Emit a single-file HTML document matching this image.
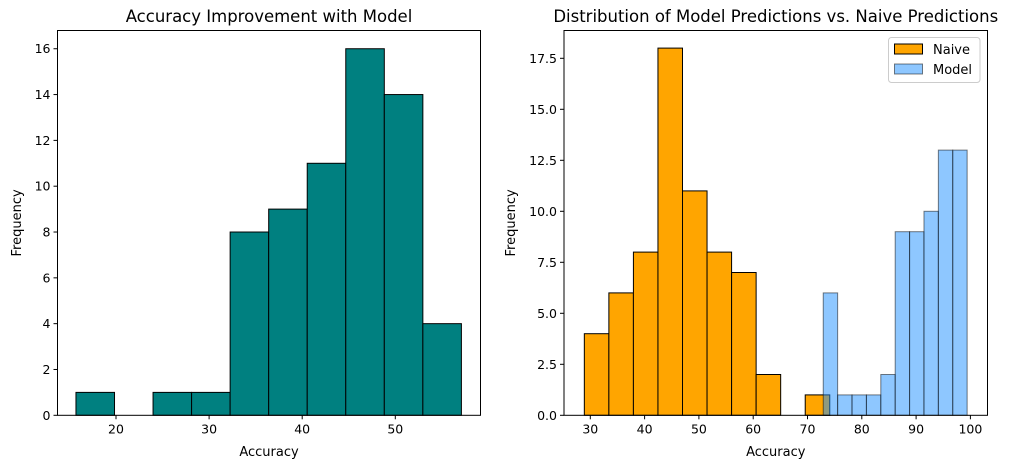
<!DOCTYPE html>
<html><head><meta charset="utf-8"><style>
body{margin:0;background:#fff;}
svg{font-family:"DejaVu Sans","Liberation Sans",sans-serif;}
</style></head><body>
<svg id="c" width="1010" height="468" xmlns="http://www.w3.org/2000/svg"></svg>
<script>
const leftCounts=[1,0,1,1,8,9,11,16,14,4];
const leftEdgeStart=15.7, leftBinW=4.14;
const leftXTicks=[20,30,40,50];
const leftYTicks=[0,2,4,6,8,10,12,14,16];
const naiveCounts=[4,6,8,18,11,8,7,2,0,1];
const naiveEdgeStart=28.9, naiveBinW=4.52;
const modelCounts=[6,1,1,1,2,9,9,10,13,13];
const modelEdgeStart=72.9, modelBinW=2.65;
const rightXTicks=[30,40,50,60,70,80,90,100];
const rightYTicks=[0,2.5,5,7.5,10,12.5,15,17.5];

const NS="http://www.w3.org/2000/svg";
const svg=document.getElementById('c');
function mk(tag,attrs,parent){const e=document.createElementNS(NS,tag);for(const k in attrs)e.setAttribute(k,attrs[k]);(parent||svg).appendChild(e);return e;}

function panel(o){
  const g=mk('g',{});
  
  
  const X=v=>o.x0+(v-o.xv0)*o.xs, Y=v=>o.yb-v*o.ys;
  o.series.forEach(s=>{
    s.counts.forEach((c,i)=>{
      const a=X(s.start+i*s.w), b=X(s.start+(i+1)*s.w);
      const r=mk('rect',{x:a,y:Y(c),width:b-a,height:c*o.ys,fill:s.fill,'fill-opacity':s.op,stroke:'#000','stroke-opacity':s.sop,'stroke-width':1},g);
      
      
    });
  });
  const fr=mk('rect',{x:o.L,y:o.T,width:o.R-o.L,height:o.yb-o.T,fill:'none',stroke:'#000','stroke-width':1},g);
  
  
  o.xt.forEach(v=>{
    const x=X(v);
    mk('line',{x1:x,x2:x,y1:o.yb,y2:o.yb+4,stroke:'#000'},g);
    const t=mk('text',{x:x,y:o.yb+18,'text-anchor':'middle','font-size':'12.5'},g);t.textContent=v;
    
    
  });
  o.yt.forEach(v=>{
    const y=Y(v);
    mk('line',{x1:o.L-4,x2:o.L,y1:y,y2:y,stroke:'#000'},g);
    const t=mk('text',{x:o.L-7,y:y+4.5,'text-anchor':'end','font-size':'12.5'},g);t.textContent=o.yfmt(v);
    
    
  });
  const ti=mk('text',{x:(o.L+o.R)/2,y:22,'text-anchor':'middle','font-size':'16.5'},g);ti.textContent=o.title;
  
  
  const xl=mk('text',{x:(o.L+o.R)/2,y:456,'text-anchor':'middle','font-size':'13'},g);xl.textContent='Accuracy';
  
  
  const yl=mk('text',{x:0,y:0,'text-anchor':'middle','font-size':'13',transform:`translate(${o.ylx},${(o.T+o.yb)/2}) rotate(-90)`},g);yl.textContent='Frequency';
  
  
}
panel({name:'accuracy-improvement-chart',L:57.5,R:480.5,T:30.5,yb:415.3,x0:116,xv0:20,xs:9.31,ys:22.91,
  series:[{id:'improvement',counts:leftCounts,start:leftEdgeStart,w:leftBinW,fill:'#008080',op:1,sop:1}],
  xt:leftXTicks,yt:leftYTicks,yfmt:v=>v,title:'Accuracy Improvement with Model',ylx:21});
panel({name:'distribution-chart',L:564,R:987.5,T:30.5,yb:415.3,x0:590.3,xv0:30,xs:5.43,ys:20.4,
  series:[{id:'naive',counts:naiveCounts,start:naiveEdgeStart,w:naiveBinW,fill:'#FFA500',op:1,sop:1},
          {id:'model',counts:modelCounts,start:modelEdgeStart,w:modelBinW,fill:'#1E90FF',op:0.5,sop:0.5}],
  xt:rightXTicks,yt:rightYTicks,yfmt:v=>v.toFixed(1),title:'Distribution of Model Predictions vs. Naive Predictions',ylx:515});
const lg=mk('g',{});


mk('rect',{x:888.5,y:37.5,width:91.5,height:45,rx:3,fill:'#fff',stroke:'#ccc'},lg);
[['Naive','#FFA500',1,1,49],['Model','#1E90FF',0.5,0.5,69]].forEach(d=>{
  const e=mk('g',{},lg);
  
  
  mk('rect',{x:894.5,y:d[4]-5,width:28,height:10,fill:d[1],'fill-opacity':d[2],stroke:'#000','stroke-opacity':d[3]},e);
  const t=mk('text',{x:933,y:d[4]+5,'font-size':'13'},e);t.textContent=d[0];
});
</script>
</body></html>
